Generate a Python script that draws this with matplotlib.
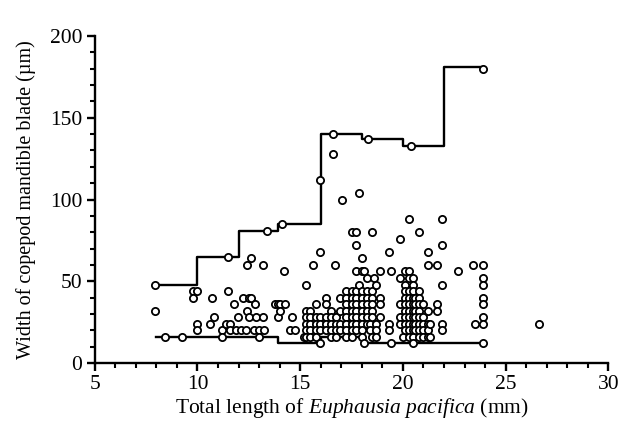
import matplotlib
matplotlib.use("Agg")
import matplotlib.pyplot as plt
from matplotlib.ticker import MultipleLocator

plt.rcParams["font.family"] = ["Liberation Serif", "DejaVu Serif"]
plt.rcParams["mathtext.fontset"] = "custom"
plt.rcParams["mathtext.it"] = "Liberation Serif:italic"
plt.rcParams["mathtext.rm"] = "Liberation Serif"

# total length (mm) of each column of points, and the blade widths (um) found there
col_len = [7.95, 8.4, 9.25, 9.8, 10.0, 10.6, 10.7, 10.8, 11.2, 11.4, 11.5, 11.6,
           11.8, 11.9, 11.95, 12.1, 12.2, 12.35, 12.4, 12.5, 12.6, 12.75, 12.8,
           12.85, 13.0, 13.2, 13.25, 13.4, 13.75, 13.9, 14.0, 14.1, 14.2, 14.25,
           14.5, 14.6, 14.75, 15.2,
           15.3, 15.5, 15.6, 15.75, 15.95, 16.25, 16.5, 16.6, 16.7, 16.75, 16.95,
           17.05, 17.25, 17.5, 17.7, 17.85, 18.0, 18.1, 18.25, 18.3, 18.4, 18.5,
           18.6, 18.7, 18.9, 19.3, 19.4, 19.85, 20.0, 20.1, 20.3, 20.4, 20.5,
           20.6, 20.8, 21.0, 21.2, 21.3, 21.65, 21.9, 22.7, 23.4, 23.5, 23.9, 26.6]
col_width = [
    [48, 32], [16], [16], [44, 40], [44, 24, 20], [24], [40], [28], [20, 16], [24],
    [65, 44], [24, 20],
    [36], [20], [28], [20], [40], [20], [60, 32], [40, 28], [64, 40], [20], [36],
    [28], [20, 16], [60, 28], [20], [81], [36], [36, 28], [36, 32], [85], [56], [36],
    [20], [28], [20], [16],
    [48, 32, 28, 24, 20, 16], [32, 28, 24, 20, 16], [60], [36, 28, 24, 20, 16],
    [112, 68, 28, 24, 20, 12], [40, 36, 28, 24, 20], [32, 28, 24, 20, 16],
    [140, 128], [60], [28, 24, 20, 16], [40, 32, 24, 20],
    [100], [44, 40, 36, 32, 28, 24, 20, 16], [80, 44, 40, 36, 32, 28, 24, 20, 16],
    [80, 72, 56, 44, 40, 36, 32, 28, 24, 20], [104, 48],
    [64, 56, 44, 40, 36, 32, 28, 24, 20, 16], [56, 12], [52, 44, 40, 36, 32, 28, 24],
    [137], [24, 20], [80, 44, 40, 36, 32, 28, 16],
    [52], [48, 24, 20, 16], [56, 40, 36, 28], [68, 24, 20], [56, 12],
    [76, 52, 36, 28, 24], [16], [56, 48, 44, 40, 36, 32, 28, 24, 20],
    [88, 56, 52, 44, 40, 36, 32, 28, 24, 20, 16], [133],
    [52, 48, 44, 40, 36, 32, 28, 24, 20, 16, 12],
    [40, 36, 32, 28, 24, 20], [80, 44, 40, 36, 32, 28, 24, 20, 16],
    [36, 28, 24, 20, 16], [68, 60, 32, 24, 20, 16], [24, 16], [60, 36, 32],
    [88, 72, 48, 24, 20], [56], [60], [24],
    [180, 60, 52, 48, 40, 36, 28, 24, 12], [24],
]

# upper (maximum) and lower (minimum) step lines
max_len = [8.0, 10.0, 12.0, 13.9, 16.0, 18.0, 20.0, 22.0, 23.9]
max_width = [48, 65, 81, 85, 140, 137, 133, 181, 181]
min_len = [8.0, 13.9, 16.0, 18.0, 23.9]
min_width = [16, 12, 16, 12, 12]

pt_len = [x for x, ws in zip(col_len, col_width) for w in ws]
pt_width = [w for x, ws in zip(col_len, col_width) for w in ws]

fig = plt.figure(figsize=(6.25, 4.33), dpi=100)
ax = fig.add_axes([0.1515, 0.1617, 0.822, 0.755])

ax.step(max_len, max_width, where="post", color="black", lw=1.7, zorder=2)
ax.step(min_len, min_width, where="post", color="black", lw=1.7, zorder=2)
ax.plot(pt_len, pt_width, "o", ms=5.2, mfc="white", mec="black", mew=1.3,
        linestyle="none", zorder=3)

ax.set_xlim(5, 30)
ax.set_ylim(0, 200)
ax.xaxis.set_major_locator(MultipleLocator(5))
ax.xaxis.set_minor_locator(MultipleLocator(1))
ax.yaxis.set_major_locator(MultipleLocator(50))
ax.yaxis.set_minor_locator(MultipleLocator(10))

for s in ["top", "right"]:
    ax.spines[s].set_visible(False)
for s in ["left", "bottom"]:
    ax.spines[s].set_linewidth(1.7)

ax.tick_params(which="major", direction="out", length=6, width=1.7, labelsize=15.5, pad=3)
ax.tick_params(which="minor", direction="out", length=3.5, width=1.5)

ax.set_xlabel(r"Total length of $\mathit{Euphausia\ pacifica}$ (mm)", fontsize=15.5, labelpad=1)
ax.set_ylabel("Width of copepod mandible blade (\u00b5m)", fontsize=14.5, labelpad=10)

fig.savefig("out.png", dpi=100)
